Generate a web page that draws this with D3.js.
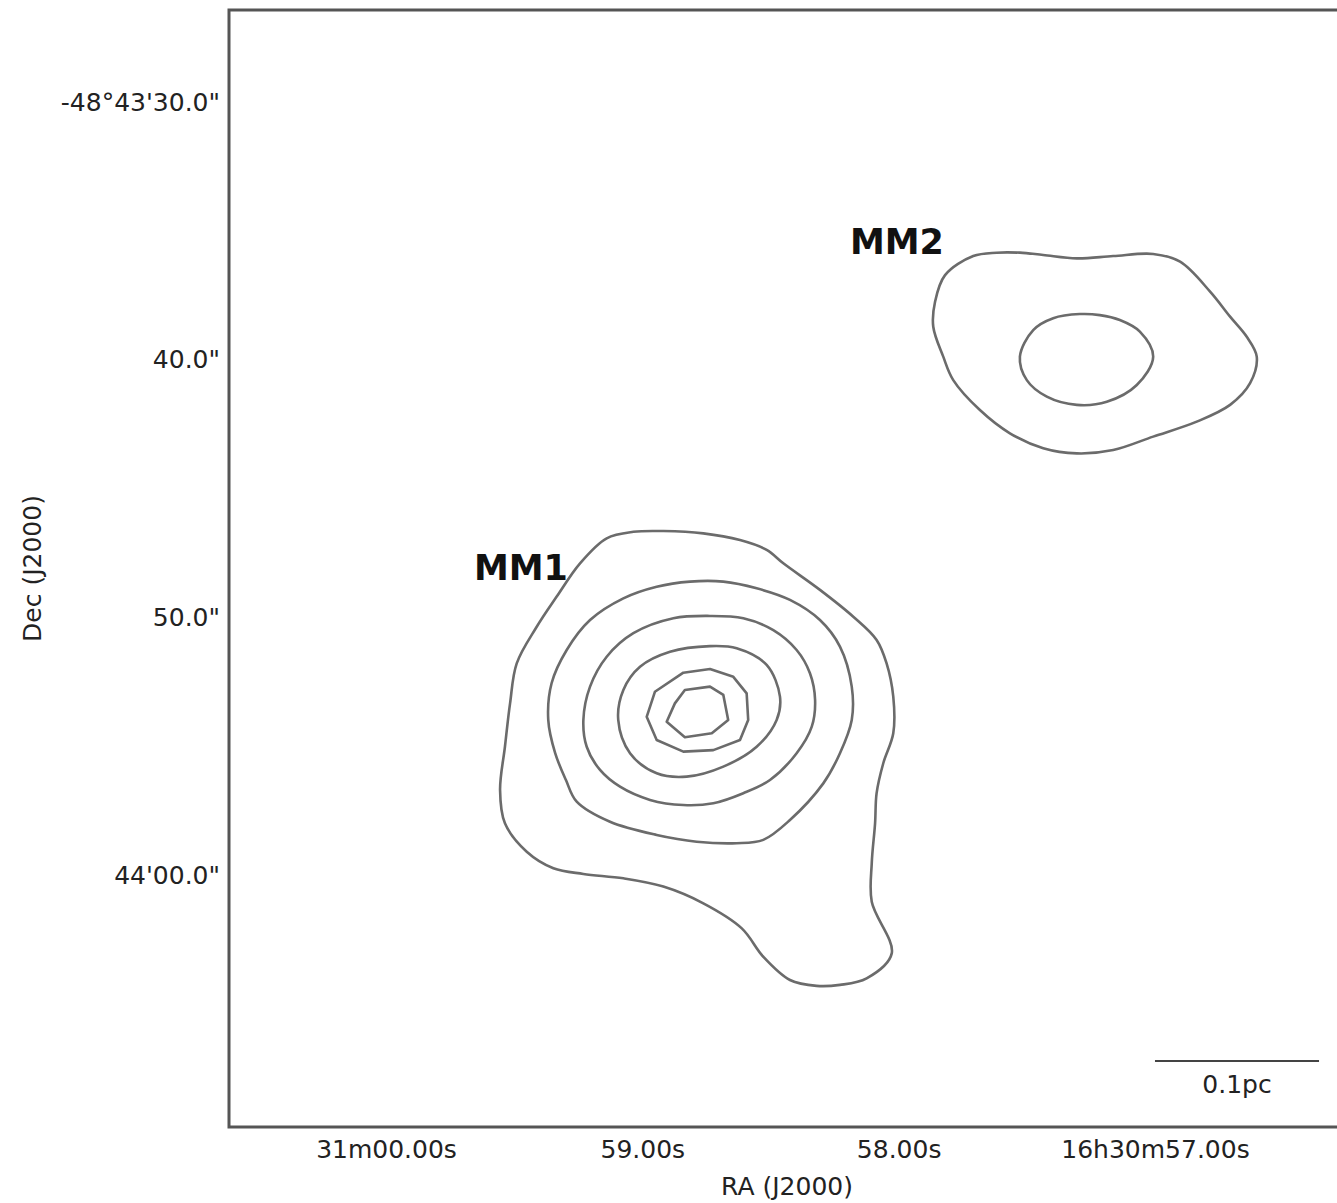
<!DOCTYPE html>
<html>
<head>
<meta charset="utf-8">
<script src="https://cdn.jsdelivr.net/npm/d3@7"></script>
<style>
  html, body { margin: 0; padding: 0; background: #fff; }
  svg { display: block; }
</style>
</head>
<body>
<svg id="chart" width="1337" height="1203"></svg>
<script>
// ---- Data (RA in seconds past 16h30m, Dec in arcsec past -48°43') ----
const raTicks = [60, 59, 58, 57];
const raTickLabels = ["31m00.00s", "59.00s", "58.00s", "16h30m57.00s"];
const decTicks = [30, 40, 50, 60];
const decTickLabels = ["-48°43'30.0\"", "40.0\"", "50.0\"", "44'00.0\""];

const raExtent = [60.6125, 56.2587];
const decExtent = [26.434, 69.729];

// MM2 contours
const mm2Level1 = [
  [57.618,35.84],[57.709,35.97],[57.819,36.71],[57.858,37.74],[57.865,38.71],[57.826,39.87],
  [57.787,40.78],[57.683,41.94],[57.566,42.84],[57.436,43.42],[57.305,43.62],[57.163,43.49],
  [57.007,42.97],[56.837,42.39],[56.707,41.74],[56.629,40.90],[56.603,39.87],[56.642,39.10],
  [56.707,38.32],[56.785,37.35],[56.902,36.19],[57.007,35.89],[57.163,35.97],[57.305,36.06],
  [57.436,35.93],[57.527,35.84]
];
const mm2Level2 = [
  [57.293,38.22],[57.397,38.38],[57.475,38.84],[57.527,39.87],[57.500,40.78],[57.422,41.42],
  [57.305,41.74],[57.188,41.62],[57.071,40.97],[57.007,39.87],[57.059,38.90],[57.137,38.45],
  [57.215,38.26]
];

// MM1 contours
const mm1Level1 = [
  [59.139,46.91],[59.035,46.66],[58.918,46.63],[58.762,46.72],[58.619,46.98],[58.515,47.36],
  [58.450,47.88],[58.307,48.91],[58.177,49.95],[58.086,50.85],[58.047,51.76],[58.021,53.05],
  [58.021,54.47],[58.060,55.63],[58.086,56.79],[58.092,57.96],[58.105,59.51],[58.105,61.00],
  [58.027,63.00],[58.125,63.97],[58.229,64.22],[58.320,64.26],[58.424,64.03],[58.528,63.13],
  [58.612,62.03],[58.762,61.06],[58.918,60.41],[59.074,60.09],[59.230,59.92],[59.347,59.70],
  [59.451,59.06],[59.536,57.96],[59.555,56.67],[59.536,54.99],[59.516,53.31],[59.490,51.76],
  [59.412,50.34],[59.334,49.17],[59.243,47.88]
];
const mm1Level2 = [
  [58.814,48.59],[58.684,48.59],[58.554,48.85],[58.424,49.30],[58.307,50.08],[58.229,51.11],
  [58.183,52.66],[58.183,53.95],[58.229,55.24],[58.294,56.41],[58.424,57.83],[58.528,58.60],
  [58.632,58.73],[58.788,58.67],[58.944,58.41],[59.126,57.90],[59.256,57.12],[59.298,56.28],
  [59.340,55.24],[59.367,53.95],[59.354,52.53],[59.295,51.24],[59.204,50.08],[59.074,49.24],
  [58.944,48.79]
];
const mm1Level3 = [
  [58.736,49.92],[58.606,50.01],[58.489,50.47],[58.398,51.24],[58.346,52.14],[58.326,53.18],
  [58.339,54.21],[58.398,55.24],[58.502,56.28],[58.606,56.79],[58.723,57.18],[58.840,57.25],
  [58.970,57.05],[59.087,56.54],[59.165,55.89],[59.217,54.99],[59.230,53.95],[59.204,52.66],
  [59.139,51.50],[59.035,50.59],[58.879,50.01]
];
const mm1Level4 = [
  [58.736,51.09],[58.632,51.17],[58.515,51.82],[58.463,53.05],[58.476,53.95],[58.554,54.99],
  [58.684,55.76],[58.827,56.15],[58.944,56.02],[59.048,55.24],[59.094,53.95],[59.074,52.79],
  [59.009,51.89],[58.892,51.31]
];
const mm1Level5 = [
  [58.736,51.98],[58.645,52.28],[58.593,52.92],[58.587,53.95],[58.619,54.73],[58.723,55.12],
  [58.840,55.18],[58.944,54.73],[58.983,53.83],[58.951,52.86],[58.840,52.12]
];
const mm1Level6 = [
  [58.834,52.79],[58.736,52.66],[58.684,52.98],[58.665,53.95],[58.729,54.47],[58.834,54.62],
  [58.905,54.02],[58.873,53.31]
];

const smoothContours = [mm2Level1, mm2Level2, mm1Level1, mm1Level2, mm1Level3, mm1Level4];
const polyContours = [mm1Level5, mm1Level6];

const sourceNames = ["MM1", "MM2"];
const sourcePos = [[59.657, 48.53], [58.190, 35.89]];

const scaleBarRA = [57.00, 56.36];
const scaleBarDec = 67.17;
const scaleBarLabel = "0.1pc";
const scaleBarLabelDec = 68.4;

// ---- Layout ----
const margin = { left: 229, top: 10 };
const W = 1116, H = 1117;
const font = "'DejaVu Sans', 'Bitstream Vera Sans', sans-serif";

const svg = d3.select("#chart");
const g = svg.append("g").attr("transform", `translate(${margin.left},${margin.top})`);

const x = d3.scaleLinear().domain(raExtent).range([0, W]);
const y = d3.scaleLinear().domain(decExtent).range([0, H]);

// Contours
const lineSmooth = d3.line().x(d => x(d[0])).y(d => y(d[1])).curve(d3.curveCatmullRomClosed.alpha(0.5));
const linePoly = d3.line().x(d => x(d[0])).y(d => y(d[1])).curve(d3.curveLinearClosed);

g.selectAll("path.smooth").data(smoothContours).join("path")
  .attr("class", "smooth")
  .attr("d", lineSmooth)
  .attr("fill", "none").attr("stroke", "#6b6b6b").attr("stroke-width", 2.6)
  .attr("stroke-linejoin", "round");
g.selectAll("path.poly").data(polyContours).join("path")
  .attr("class", "poly")
  .attr("d", linePoly)
  .attr("fill", "none").attr("stroke", "#6b6b6b").attr("stroke-width", 2.6)
  .attr("stroke-linejoin", "round");

// Source labels
g.selectAll("text.src").data(sourceNames).join("text")
  .attr("class", "src")
  .attr("x", (d, i) => x(sourcePos[i][0]))
  .attr("y", (d, i) => y(sourcePos[i][1]))
  .attr("font-family", font).attr("font-weight", "bold").attr("font-size", 35)
  .attr("fill", "#111")
  .text(d => d);

// Scale bar
g.append("line")
  .attr("x1", x(scaleBarRA[0])).attr("x2", x(scaleBarRA[1]))
  .attr("y1", y(scaleBarDec)).attr("y2", y(scaleBarDec))
  .attr("stroke", "#444").attr("stroke-width", 2.2);
g.append("text")
  .attr("x", (x(scaleBarRA[0]) + x(scaleBarRA[1])) / 2)
  .attr("y", y(scaleBarLabelDec))
  .attr("text-anchor", "middle")
  .attr("font-family", font).attr("font-size", 25).attr("fill", "#222")
  .text(scaleBarLabel);

// Axes
const xAxis = d3.axisBottom(x).tickValues(raTicks)
  .tickFormat((d, i) => raTickLabels[i]).tickSize(0).tickPadding(13);
const yAxis = d3.axisLeft(y).tickValues(decTicks)
  .tickFormat((d, i) => decTickLabels[i]).tickSize(0).tickPadding(9);

const gx = g.append("g").attr("transform", `translate(0,${H})`).call(xAxis);
const gy = g.append("g").call(yAxis);
[gx, gy].forEach(a => {
  a.select(".domain").remove();
  a.selectAll("text").attr("font-family", font).attr("font-size", 25).attr("fill", "#222");
});

// Frame
g.append("rect")
  .attr("x", 0).attr("y", 0).attr("width", W).attr("height", H)
  .attr("fill", "none").attr("stroke", "#555").attr("stroke-width", 3);

// Axis titles
g.append("text")
  .attr("x", W / 2).attr("y", H + 68)
  .attr("text-anchor", "middle")
  .attr("font-family", font).attr("font-size", 25).attr("fill", "#222")
  .text("RA (J2000)");
g.append("text")
  .attr("transform", `translate(${41 - margin.left},${H / 2}) rotate(-90)`)
  .attr("text-anchor", "middle")
  .attr("font-family", font).attr("font-size", 25).attr("fill", "#222")
  .text("Dec (J2000)");
</script>
</body>
</html>
